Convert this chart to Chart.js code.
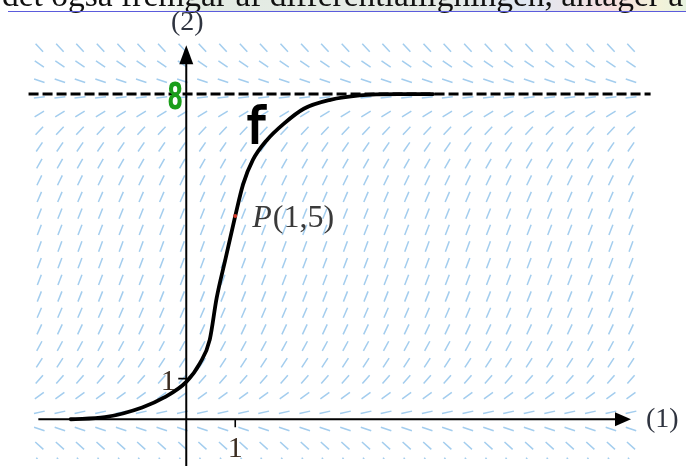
<!DOCTYPE html>
<html>
<head>
<meta charset="utf-8">
<script src="https://cdn.jsdelivr.net/npm/chart.js@4.4.1/dist/chart.umd.min.js"></script>
<style>
  html, body { margin: 0; padding: 0; background: #fff; }
  #wrap { width: 686px; height: 466px; }
</style>
</head>
<body>
<div id="wrap"><canvas id="c" width="686" height="466"></canvas></div>
<script>
// retningsfelt: søjler (x) og rækker (y) med hældning pr. række
const fieldX = [-3.00, -2.58, -2.17, -1.75, -1.33, -0.92, -0.50, -0.08, 0.33, 0.75,
                1.17, 1.58, 2.00, 2.42, 2.83, 3.25, 3.67, 4.08, 4.50, 4.92,
                5.33, 5.75, 6.17, 6.58, 7.00, 7.42, 7.83, 8.25, 8.67, 9.08];
const fieldY = [-1.06, -0.65, -0.24, 0.17, 0.58, 0.98, 1.39, 1.80, 2.21, 2.62,
                3.02, 3.43, 3.84, 4.25, 4.66, 5.06, 5.47, 5.88, 6.29, 6.70,
                7.10, 7.51, 7.92, 8.33, 8.74, 9.14];
const fieldSlope = [-1.9, -1.1, -0.4, 0.27, 0.86, 1.38, 1.84, 2.23, 2.56, 2.82,
                    3.01, 3.14, 3.19, 3.19, 3.11, 2.98, 2.77, 2.49, 2.15, 1.74,
                    1.28, 0.74, 0.13, -0.4, -0.8, -1.3];

// løsningskurven f
const curveX = [-2.36, -1.66, -0.90, -0.46, 0.00, 0.28, 0.48, 0.62, 0.80, 1.00,
                1.16, 1.36, 1.64, 2.00, 2.40, 2.94, 3.54, 4.34, 5.04];
const curveY = [0.00, 0.05, 0.29, 0.53, 0.92, 1.38, 1.96, 2.98, 3.94, 5.00,
                5.78, 6.38, 6.86, 7.28, 7.64, 7.86, 7.97, 8.00, 8.00];

// asymptote y = 8 og punktet P
const asymX = [-3.22, 9.48];
const asymY = [8, 8];
const pointP = { x: 1, y: 5 };

const xTicks = [1];
const yTicks = [1];

const fieldPoints = [];
fieldY.forEach((y, r) => {
  fieldX.forEach(x => fieldPoints.push({ x: x, y: y, s: fieldSlope[r] }));
});

const serif = '"Liberation Serif", "Times New Roman", serif';

function pxRatio(chart) {
  const xs = chart.scales.x, ys = chart.scales.y;
  return (ys.getPixelForValue(0) - ys.getPixelForValue(1)) /
         (xs.getPixelForValue(1) - xs.getPixelForValue(0));
}

// overskrift-rest, akser, pile og tekster
const decor = {
  id: 'decor',
  beforeDraw(chart) {
    const ctx = chart.ctx;
    ctx.save();
    const g = ctx.createLinearGradient(150, 0, 686, 0);
    g.addColorStop(0, 'rgba(225,234,225,0)');
    g.addColorStop(0.1, '#e3ebe3');
    g.addColorStop(0.55, '#e6ebe6');
    g.addColorStop(0.7, '#dfe8f3');
    g.addColorStop(0.86, '#f6dfdf');
    g.addColorStop(0.95, '#f3f3d9');
    g.addColorStop(1, '#e6f2df');
    ctx.fillStyle = g;
    ctx.fillRect(150, 0, 536, 11);
    ctx.fillStyle = '#111';
    ctx.font = '33.5px ' + serif;
    ctx.textBaseline = 'alphabetic';
    ctx.fillText('det også fremgår af differentialligningen, antager a', 2, 6);
    ctx.strokeStyle = '#5b5bdc';
    ctx.lineWidth = 1;
    ctx.beginPath();
    ctx.moveTo(8, 11.5);
    ctx.lineTo(686, 11.5);
    ctx.stroke();
    ctx.restore();
  },
  afterDatasetDraw(chart, args) {
    if (args.index !== 0) return;
    const ctx = chart.ctx;
    const xs = chart.scales.x, ys = chart.scales.y;
    const x0 = xs.getPixelForValue(0), y0 = ys.getPixelForValue(0);
    const xEnd = xs.getPixelForValue(9.08), yTop = ys.getPixelForValue(9.2);
    ctx.save();
    ctx.strokeStyle = '#000';
    ctx.fillStyle = '#000';
    ctx.lineWidth = 2;
    ctx.beginPath();
    ctx.moveTo(xs.getPixelForValue(-3.02), y0);
    ctx.lineTo(xEnd - 14, y0);
    ctx.moveTo(x0, chart.height);
    ctx.lineTo(x0, yTop + 18);
    ctx.stroke();
    // pilespidser
    ctx.beginPath();
    ctx.moveTo(xEnd, y0);
    ctx.lineTo(xEnd - 16, y0 - 7);
    ctx.lineTo(xEnd - 16, y0 + 7);
    ctx.closePath();
    ctx.fill();
    ctx.beginPath();
    ctx.moveTo(x0, yTop);
    ctx.lineTo(x0 - 7, yTop + 19);
    ctx.lineTo(x0 + 7, yTop + 19);
    ctx.closePath();
    ctx.fill();
    // skalamærker
    ctx.lineWidth = 1.6;
    ctx.beginPath();
    xTicks.forEach(v => {
      const p = xs.getPixelForValue(v);
      ctx.moveTo(p, y0);
      ctx.lineTo(p, y0 + 8);
    });
    yTicks.forEach(v => {
      const p = ys.getPixelForValue(v);
      ctx.moveTo(x0 - 8, p);
      ctx.lineTo(x0, p);
    });
    ctx.stroke();
    ctx.font = '30px ' + serif;
    ctx.fillStyle = '#3b2c20';
    ctx.textAlign = 'center';
    ctx.textBaseline = 'alphabetic';
    xTicks.forEach(v => ctx.fillText(String(v), xs.getPixelForValue(v), y0 + 38));
    yTicks.forEach(v => ctx.fillText(String(v), x0 - 18, ys.getPixelForValue(v) + 11));
    ctx.fillStyle = '#2f3440';
    ctx.font = '28px ' + serif;
    ctx.fillText('(2)', x0 + 1, 30);
    ctx.textAlign = 'left';
    ctx.fillText('(1)', xEnd + 15, y0 + 8);
    ctx.restore();
  },
  afterDatasetsDraw(chart) {
    const ctx = chart.ctx;
    const xs = chart.scales.x, ys = chart.scales.y;
    const x0 = xs.getPixelForValue(0);
    ctx.save();
    // P(1,5)
    const px = xs.getPixelForValue(pointP.x) + 17, py = ys.getPixelForValue(pointP.y) + 11;
    ctx.fillStyle = '#3a3a3a';
    ctx.font = 'italic 32px ' + serif;
    ctx.fillText('P', px, py);
    const w = ctx.measureText('P').width;
    ctx.font = '32px ' + serif;
    ctx.fillText('(' + pointP.x + ',' + pointP.y + ')', px + w + 1, py);
    // håndskrevet f
    ctx.fillStyle = '#000';
    ctx.strokeStyle = '#000';
    ctx.lineWidth = 2;
    ctx.font = '50px "DejaVu Sans"';
    ctx.fillText('f', x0 + 61, 143);
    ctx.strokeText('f', x0 + 61, 143);
    // grønt 8-tal ved asymptoten
    ctx.translate(x0 - 11, ys.getPixelForValue(8) + 15);
    ctx.scale(0.6, 1);
    ctx.fillStyle = '#1b9e1b';
    ctx.font = 'bold 38px "DejaVu Sans"';
    ctx.textAlign = 'center';
    ctx.fillText('8', 0, 0);
    ctx.restore();
  }
};

new Chart(document.getElementById('c'), {
  type: 'scatter',
  data: {
    datasets: [
      {
        data: fieldPoints,
        order: 4,
        pointStyle: 'line',
        pointRadius: 5.5,
        pointBorderWidth: 1.5,
        pointBorderColor: '#a3cdee',
        pointBackgroundColor: '#a3cdee',
        pointRotation: ctx => ctx.raw ? -Math.atan(ctx.raw.s * pxRatio(ctx.chart)) * 180 / Math.PI : 0
      },
      {
        type: 'line',
        data: asymX.map((x, i) => ({ x: x, y: asymY[i] })),
        order: 3,
        borderColor: '#000',
        borderWidth: 3,
        borderDash: [10, 4],
        pointRadius: 0
      },
      {
        type: 'line',
        data: curveX.map((x, i) => ({ x: x, y: curveY[i] })),
        order: 2,
        borderColor: '#000',
        borderWidth: 3.8,
        cubicInterpolationMode: 'monotone',
        pointRadius: 0,
        borderCapStyle: 'round',
        borderJoinStyle: 'round'
      },
      {
        data: [pointP],
        order: 1,
        pointRadius: 2,
        pointBorderWidth: 0,
        pointBackgroundColor: '#d23a2a'
      }
    ]
  },
  options: {
    responsive: false,
    animation: false,
    events: [],
    devicePixelRatio: 1,
    layout: { padding: 0 },
    plugins: { legend: { display: false }, tooltip: { enabled: false } },
    scales: {
      x: { type: 'linear', min: -3.66, max: 10.06, display: false },
      y: { type: 'linear', min: -0.9785, max: 10.143, display: false }
    }
  },
  plugins: [decor]
});
</script>
</body>
</html>
